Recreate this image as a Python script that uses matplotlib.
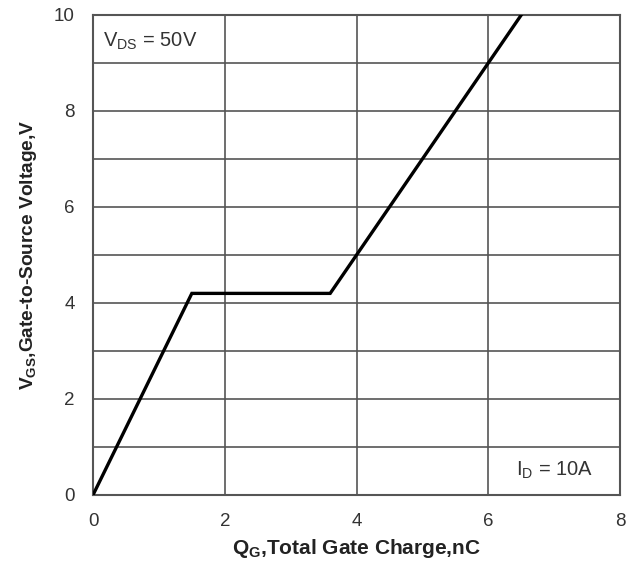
import matplotlib
matplotlib.use("Agg")
import matplotlib.pyplot as plt

plt.rcParams['font.family'] = ['Liberation Sans', 'DejaVu Sans']
plt.rcParams['mathtext.fontset'] = 'custom'
plt.rcParams['mathtext.rm'] = 'Liberation Sans'
plt.rcParams['mathtext.bf'] = 'Liberation Sans:bold'
plt.rcParams['mathtext.it'] = 'Liberation Sans:italic'

qg = [0.0, 1.5, 3.6, 6.5]
vgs = [0.0, 4.2, 4.2, 10.0]
xticks = [0, 2, 4, 6, 8]
yticks = [0, 2, 4, 6, 8, 10]
yminor = [1, 3, 5, 7, 9]

fig = plt.figure(figsize=(6.34, 5.70), dpi=100)
ax = fig.add_axes([0.1467, 0.1316, 0.978 - 0.1467, 0.9737 - 0.1316])

ax.set_xlim(0, 8)
ax.set_ylim(0, 10)
ax.set_xticks(xticks)
ax.set_yticks(yticks)
ax.set_yticks(yminor, minor=True)
ax.grid(True, which='major', color='#555555', linewidth=1.2)
ax.grid(True, which='minor', axis='y', color='#555555', linewidth=1.2)
ax.tick_params(which='both', length=0, labelsize=13.5, labelcolor='#333333', pad=13)
for s in ax.spines.values():
    s.set_color('#555555')
    s.set_linewidth(1.5)

ax.plot(qg, vgs, color='black', linewidth=2.4, solid_joinstyle='miter', zorder=3)

ax.set_xlabel(r'$\mathbf{Q_{G}}$,Total Gate Charge,nC', fontsize=15, fontweight='bold', color='#222222', labelpad=5)
ax.set_ylabel(r'$\mathbf{V_{GS}}$,Gate-to-Source Voltage,V', fontsize=13.8, fontweight='bold', color='#222222', labelpad=11)

ax.text(0.15, 9.45, r'V$_{\mathrm{DS}}$ = 50V', fontsize=14.5, color='#333333', va='center', ha='left')
ax.text(7.6, 0.52, r'I$_{\mathrm{D}}$ = 10A', fontsize=14.5, color='#333333', va='center', ha='right')

fig.savefig('out.png', dpi=100)
